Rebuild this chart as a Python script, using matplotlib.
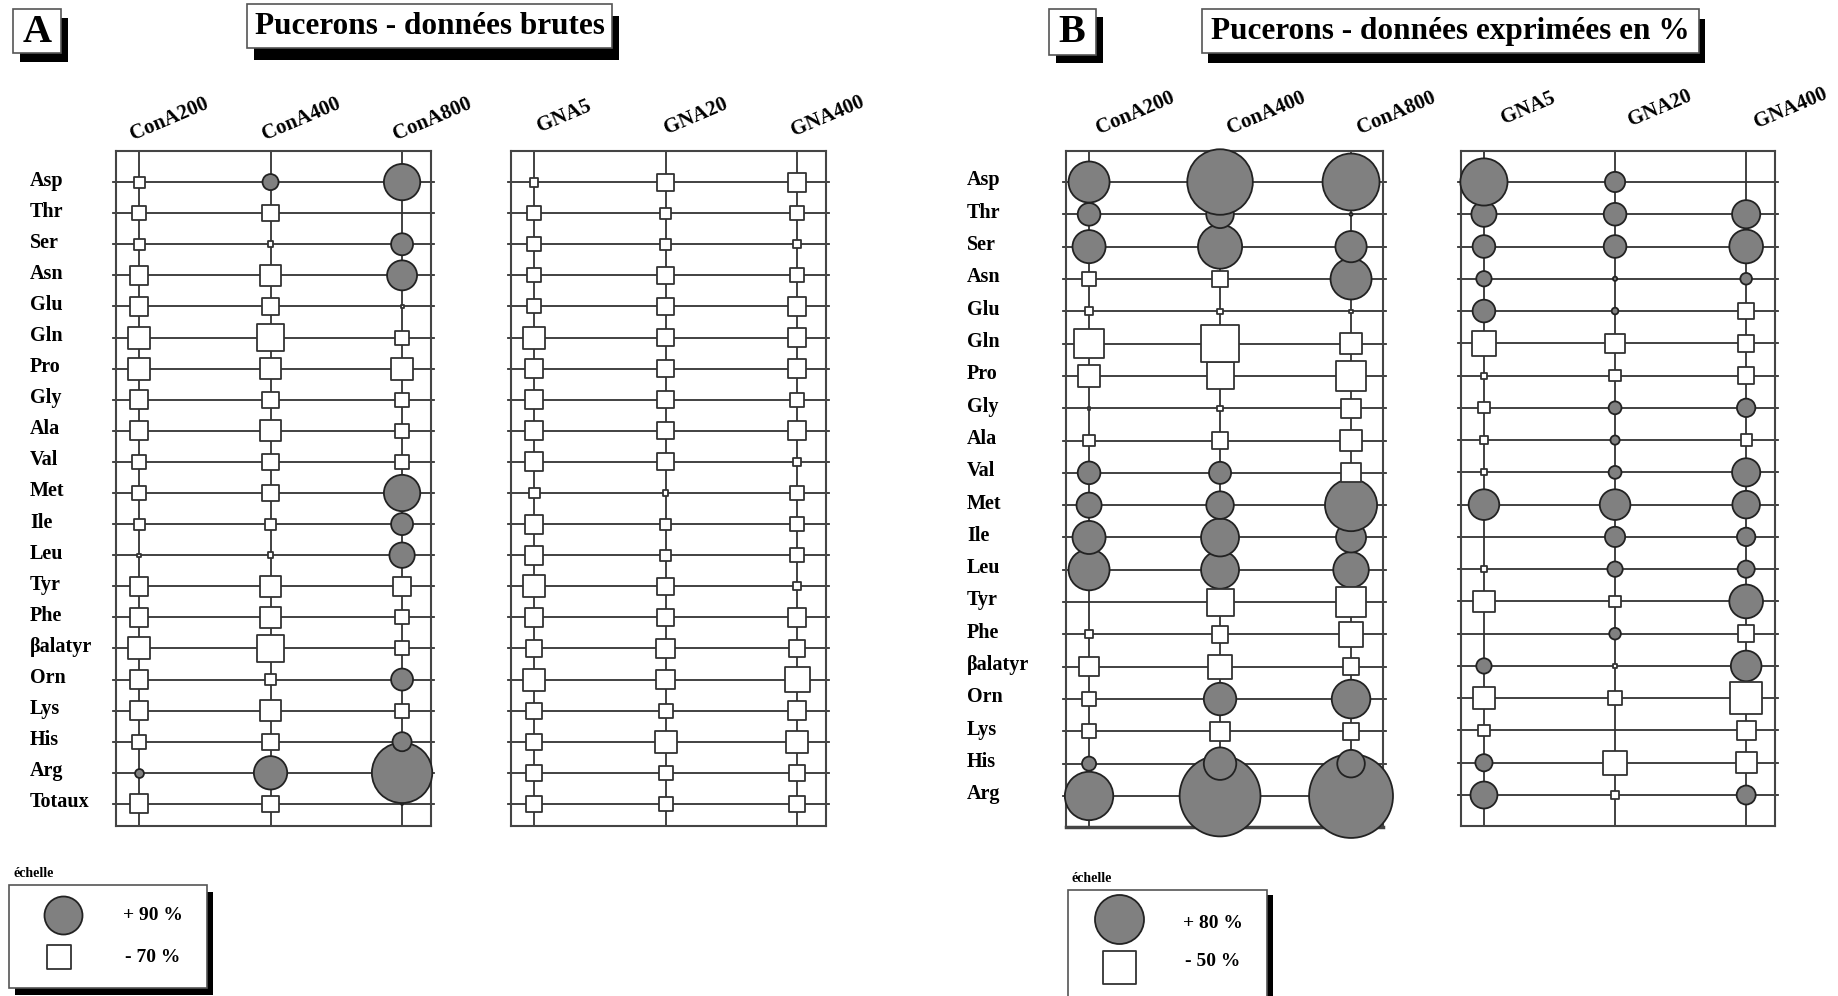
import numpy as np
import matplotlib
matplotlib.use('Agg')
import matplotlib.pyplot as plt
from matplotlib.patches import Rectangle
from matplotlib.transforms import blended_transform_factory

plt.rcParams['font.family'] = ['Liberation Serif', 'DejaVu Serif']
plt.rcParams['font.weight'] = 'bold'

# acides amines (lignes)
acides_a = ['Asp', 'Thr', 'Ser', 'Asn', 'Glu', 'Gln', 'Pro', 'Gly', 'Ala', 'Val', 'Met',
            'Ile', 'Leu', 'Tyr', 'Phe', 'βalatyr', 'Orn', 'Lys', 'His', 'Arg', 'Totaux']
acides_b = acides_a[:-1]

lectines_cona = ['ConA200', 'ConA400', 'ConA800']
lectines_gna = ['GNA5', 'GNA20', 'GNA400']

# A - donnees brutes (variation en %, + = cercle, - = carre)
a_cona200 = [-32, -41, -32, -55, -55, -64, -64, -55, -55, -41, -41, -32, -9, -55, -55, -64, -55, -55, -41, 21, -55]
a_cona400 = [38, -47, -17, -61, -47, -79, -61, -47, -61, -47, -47, -32, -17, -61, -61, -79, -32, -61, -47, 79, -47]
a_cona800 = [86, 0, 52, 71, -9, -41, -64, -41, -41, -41, 86, 52, 60, -55, -41, -41, 52, -41, 45, 143, 5]
a_gna5 = [-26, -41, -41, -41, -41, -64, -55, -55, -55, -55, -32, -55, -55, -64, -55, -47, -64, -47, -47, -47, -47]
a_gna20 = [-50, -32, -32, -50, -50, -50, -50, -50, -50, -50, -15, -32, -32, -50, -50, -55, -55, -41, -64, -41, -41]
a_gna400 = [-55, -41, -23, -41, -55, -55, -55, -41, -55, -23, -41, -41, -41, -23, -55, -47, -73, -55, -64, -47, -47]

# B - donnees exprimees en %
b_cona200 = [67, 37, 54, -21, -12, -45, -33, -4, -17, 37, 41, 54, 67, -1, -12, -29, -21, -21, 23, 79]
b_cona400 = [107, 45, 72, -25, -8, -57, -41, -8, -25, 36, 45, 62, 62, -41, -25, -37, 53, -29, 53, 132]
b_cona800 = [93, 5, 51, 67, -5, -33, -45, -29, -33, -29, 85, 49, 58, -45, -37, -25, 63, -25, 45, 137]
b_gna5 = [77, 41, 37, 25, 37, -37, -9, -17, -13, -9, 50, 0, -9, -32, 0, 25, -33, -17, 28, 44]
b_gna20 = [33, 37, 37, 7, 11, -29, -17, 21, 15, 21, 50, 33, 25, -17, 19, -6, -21, 0, -37, -13]
b_gna400 = [0, 46, 55, 19, -25, -25, -25, 30, -17, 46, 45, 30, 28, 55, -25, 50, -49, -29, -32, 31]

# echelles
echelle_a = [90, -70]
echelle_b = [80, -50]

W, H = 1838, 996
fig = plt.figure(figsize=(W / 100, H / 100), dpi=100)
PT = 0.72  # px -> points


def rect_px(x0, y0, x1, y1):
    return [x0 / W, 1 - y1 / H, (x1 - x0) / W, (y1 - y0) / H]


def boite_ombre(x0, y0, x1, y1, dx, dy, lw=1.2):
    r = rect_px(x0 + dx, y0 + dy, x1 + dx, y1 + dy)
    fig.add_artist(Rectangle(r[:2], r[2], r[3], transform=fig.transFigure,
                             facecolor='black', edgecolor='none', zorder=0))
    r = rect_px(x0, y0, x1, y1)
    fig.add_artist(Rectangle(r[:2], r[2], r[3], transform=fig.transFigure,
                             facecolor='white', edgecolor='#555', lw=lw, zorder=1))


def taille(v, kc, ks):
    v = np.asarray(v, float)
    return np.where(v > 0, v * kc, -v * ks) * PT


def marqueurs(ax, x, y, v, kc, ks):
    v = np.asarray(v, float)
    y = np.asarray(y)
    pos = v > 0
    neg = v < 0
    t = taille(v, kc, ks)
    ax.scatter(np.asarray(x)[pos], y[pos], s=t[pos] ** 2, marker='o', facecolor='#808080',
               edgecolor='#222', linewidths=1.3, zorder=3, clip_on=False)
    ax.scatter(np.asarray(x)[neg], y[neg], s=t[neg] ** 2, marker='s', facecolor='white',
               edgecolor='#333', linewidths=1.3, zorder=3, clip_on=False)


def cadre(rect, series, noms, lignes, kc, ks, ylim, ldx, ldy, xlim=(-0.175, 2.22)):
    ax = fig.add_axes(rect_px(*rect))
    n = len(lignes)
    ax.set_xlim(xlim)
    ax.set_ylim(ylim)
    for i in range(n):
        ax.plot([xlim[0] - 0.02, xlim[1] + 0.02], [i, i], color='#333', lw=1.3, zorder=1, clip_on=False)
    for j in range(3):
        ax.axvline(j, color='#333', lw=1.3, zorder=1)
    ordre = np.arange(n)[::-1]
    for j, (nom, vals) in enumerate(zip(noms, series)):
        vals = np.asarray(vals, float)
        marqueurs(ax, np.full(n, j), ordre, vals[ordre], kc, ks)
        ax.annotate(nom, xy=(j, ylim[1]), xytext=(ldx, ldy), textcoords='offset points',
                    rotation=23, ha='center', va='center', fontsize=15, fontweight='bold')
    ax.set_xticks([])
    ax.set_yticks([])
    for s in ax.spines.values():
        s.set_color('#444')
        s.set_linewidth(1.5)
    return ax


def etiquettes(ax, lignes, x):
    tr = blended_transform_factory(fig.transFigure, ax.transData)
    for i, nom in enumerate(lignes):
        ax.text(x / W, i - 0.05, nom, transform=tr, ha='left', va='center', fontsize=14.5, fontweight='bold')


def legende(rect, vals, kc, ks, pos_m, pos_t, ombre):
    x0, y0, x1, y1 = rect
    boite_ombre(x0, y0, x1, y1, ombre[0], ombre[1])
    ax = fig.add_axes(rect_px(*rect))
    ax.set_xlim(0, x1 - x0)
    ax.set_ylim(y1 - y0, 0)
    ax.axis('off')
    ax.set_zorder(2)
    marqueurs(ax, [p[0] for p in pos_m], [p[1] for p in pos_m], vals, kc, ks)
    for v, p in zip(vals, pos_t):
        txt = ('+ %d %%' % v) if v > 0 else ('- %d %%' % -v)
        ax.text(p[0], p[1], txt, ha='center', va='center', fontsize=14, fontweight='bold')
    ax.text(4, -8, 'échelle', ha='left', va='baseline', fontsize=10, fontweight='bold')


# ----- panneau A -----
kc_a, ks_a = 38 / 90, 24 / 70
ylim_a = (20.71, -1.0)
ax1 = cadre((116, 151, 431, 826), [a_cona200, a_cona400, a_cona800], lectines_cona, acides_a,
            kc_a, ks_a, ylim_a, 22, 23)
ax2 = cadre((511, 151, 826, 826), [a_gna5, a_gna20, a_gna400], lectines_gna, acides_a,
            kc_a, ks_a, ylim_a, 22, 25)
etiquettes(ax1, acides_a, 30)

boite_ombre(13, 9, 61, 53, 7, 9)
fig.text(37 / W, 1 - 33 / H, 'A', ha='center', va='center', fontsize=29, fontweight='bold')
boite_ombre(247, 4, 612, 48, 7, 12)
fig.text(430 / W, 1 - 26 / H, 'Pucerons - données brutes', ha='center', va='center',
         fontsize=22.5, fontweight='bold')
legende((9, 885, 207, 988), echelle_a, kc_a, ks_a, [(54, 30), (50, 72)], [(144, 30), (144, 72)], (6, 7))

# ----- panneau B -----
kc_b, ks_b = 49 / 80, 33 / 50
ylim_b = (19.96, -0.96)
ax3 = cadre((1066, 151, 1383, 827), [b_cona200, b_cona400, b_cona800], lectines_cona, acides_b,
            kc_b, ks_b, ylim_b, 33, 27, xlim=(-0.176, 2.244))
ax3.spines['bottom'].set_linewidth(2.5)
ax4 = cadre((1461, 151, 1775, 826), [b_gna5, b_gna20, b_gna400], lectines_gna, acides_b,
            kc_b, ks_b, ylim_b, 32, 31)
etiquettes(ax3, acides_b, 967)

boite_ombre(1049, 9, 1096, 55, 7, 8)
fig.text(1072 / W, 1 - 33 / H, 'B', ha='center', va='center', fontsize=29, fontweight='bold')
boite_ombre(1202, 9, 1699, 53, 6, 10)
fig.text(1450 / W, 1 - 31 / H, 'Pucerons - données exprimées en %', ha='center', va='center',
         fontsize=22.5, fontweight='bold')
legende((1068, 890, 1267, 1010), echelle_b, kc_b, ks_b, [(51, 29), (51, 77)], [(145, 33), (145, 71)], (6, 5))

fig.savefig('out.png', dpi=100, facecolor='white')
